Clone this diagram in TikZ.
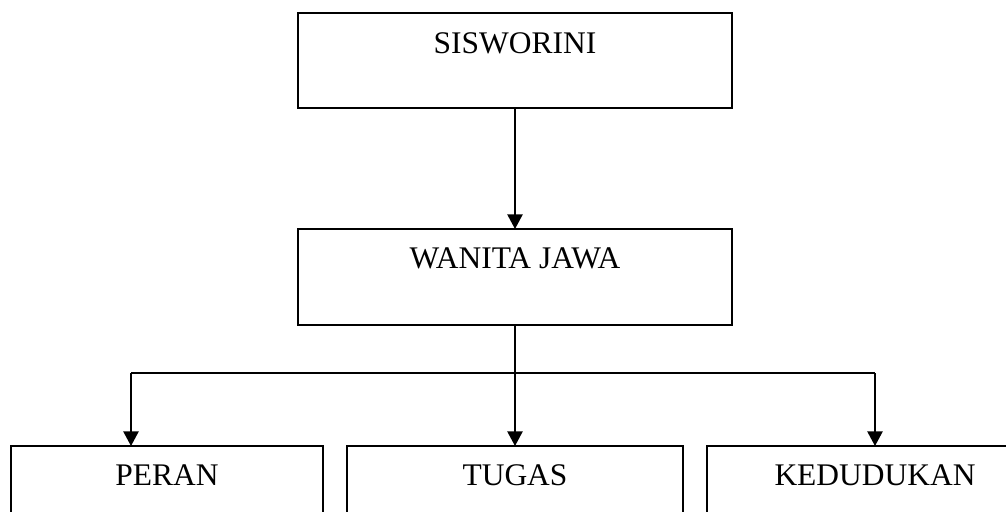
\documentclass[tikz,border=0pt]{standalone}
\usepackage{fontspec}
\setmainfont{Liberation Serif}
\usetikzlibrary{arrows.meta}
\begin{document}
\begin{tikzpicture}[x=0.75pt,y=-0.75pt,
  box/.style={draw, line width=1.1pt, rectangle, inner sep=0pt, outer sep=0pt},
  lbl/.style={anchor=base, inner sep=0pt, font=\fontsize{23.6pt}{28pt}\selectfont},
  conn/.style={line width=1.1pt},
  arr/.style={conn, -{Triangle[length=11pt,width=11.5pt]}}]
\useasboundingbox (0,0) rectangle (1006,511);
\clip (0,0) rectangle (1006,511);
% boxes
\node[box, minimum width=325.5pt, minimum height=71.25pt] (top) at (515,60.5) {};
\node[lbl] (toptext) at (515,53) {SISWORINI};
\node[box, minimum width=325.5pt, minimum height=72pt] (mid) at (515,277) {};
\node[lbl] (midtext) at (515,268) {WANITA JAWA};
\node[box, minimum width=234pt, minimum height=71.25pt] (peran) at (167,493.5) {};
\node[lbl] (perantext) at (167,485) {PERAN};
\node[box, minimum width=252pt, minimum height=71.25pt] (tugas) at (515,493.5) {};
\node[lbl] (tugastext) at (515,485) {TUGAS};
\node[box, minimum width=252pt, minimum height=71.25pt] (ked) at (875,493.5) {};
\node[lbl] (kedtext) at (875,485) {KEDUDUKAN};
% connectors
\coordinate (jl) at (131,373);
\coordinate (jr) at (875,373);
\draw[arr] (top.south) -- (mid.north);
\draw[arr] (mid.south) -- (tugas.north);
\draw[conn] (jl) -- (jr);
\draw[arr] (jl) -- (jl |- peran.north);
\draw[arr] (jr) -- (ked.north);
\end{tikzpicture}
\end{document}
